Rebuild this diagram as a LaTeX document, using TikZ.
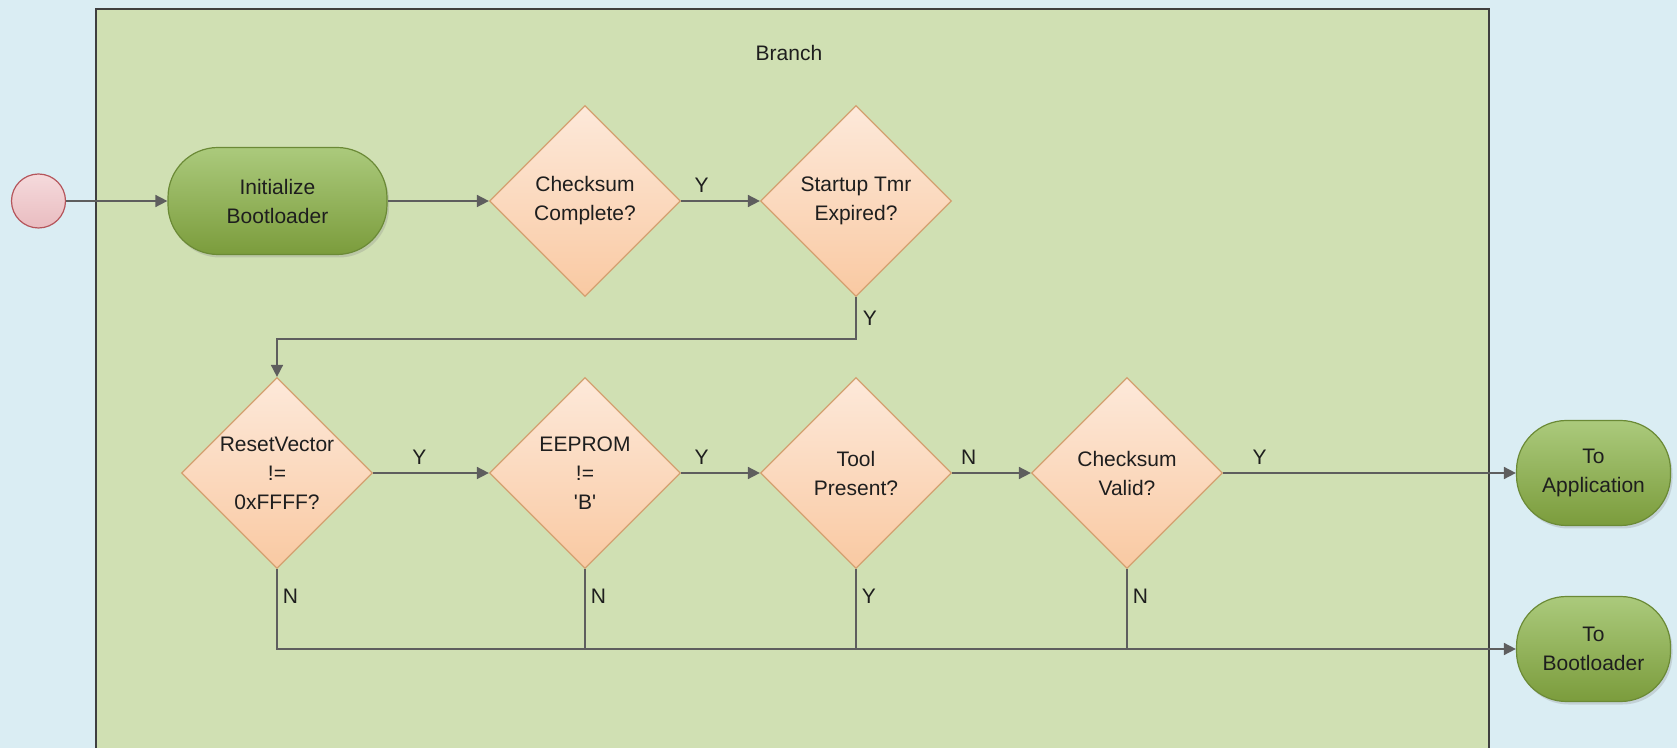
\documentclass[tikz,border=0pt]{standalone}
\usepackage{fontspec}
\setmainfont{Liberation Sans}
\usetikzlibrary{shapes.geometric,arrows.meta,shadows}
\definecolor{bgblue}{HTML}{DAEDF3}
\definecolor{panel}{HTML}{D0E0B3}
\definecolor{frame}{HTML}{3F3F3F}
\definecolor{wire}{HTML}{5E5E5E}
\definecolor{txt}{HTML}{1E1E1E}
\definecolor{dtop}{HTML}{FDE9DA}
\definecolor{dbot}{HTML}{F9C9A2}
\definecolor{ddraw}{HTML}{D4A070}
\definecolor{gtop}{HTML}{ABCA7C}
\definecolor{gbot}{HTML}{7B9C3C}
\definecolor{gdraw}{HTML}{6B8A36}
\definecolor{ctop}{HTML}{F5DADC}
\definecolor{cbot}{HTML}{E9BCC0}
\definecolor{cdraw}{HTML}{B5555B}
\begin{document}
\begin{tikzpicture}[x=.5pt,y=-.5pt,
	every node/.style={font=\fontsize{10.5}{14.5}\selectfont,text=txt,align=center,inner sep=0pt},
	decision/.style={diamond,draw=ddraw,line width=.6pt,top color=dtop,bottom color=dbot,minimum width=95.5pt,minimum height=95.5pt},
	terminal/.style={rectangle,rounded corners=25pt,draw=gdraw,line width=.6pt,top color=gtop,bottom color=gbot,
		drop shadow={shadow xshift=1pt,shadow yshift=-1.5pt,opacity=.25}},
	startpt/.style={circle,draw=cdraw,line width=.6pt,top color=ctop,bottom color=cbot,minimum size=27pt},
	flow/.style={draw=wire,line width=.8pt,-{Triangle[length=6pt,width=6pt]}},
	merge/.style={draw=wire,line width=.8pt}]
	\useasboundingbox (0,0) rectangle (1677,748);
	\fill[bgblue] (0,0) rectangle (1677,748);
	\fill[panel] (96,9) rectangle (1489,748);
	\draw[frame,line width=1.2pt] (96,748) |- (1489,9) -- (1489,748);
	\node (branch) at (789,53) {Branch};
	\node[startpt] (start) at (38.5,201) {};
	\node[terminal,minimum width=109.5pt,minimum height=53.5pt] (init) at (277.5,201) {Initialize\\Bootloader};
	\node[decision] (chk) at (585,201) {};
	\node (chkt) at (chk) {Checksum\\Complete?};
	\node[decision] (tmr) at (856,201) {};
	\node (tmrt) at (tmr) {Startup Tmr\\Expired?};
	\node[decision] (rv) at (277,473) {};
	\node (rvt) at (rv) {ResetVector\\!=\\0xFFFF?};
	\node[decision] (ee) at (585,473) {};
	\node (eet) at (ee) {EEPROM\\!=\\\textquotesingle B\textquotesingle};
	\node[decision] (tool) at (856,473) {};
	\node (toolt) at (tool) {Tool\\Present?};
	\node[decision] (cv) at (1127,473) {};
	\node (cvt) at (cv) {Checksum\\Valid?};
	\node[terminal,minimum width=77pt,minimum height=52.5pt] (app) at (1593.5,473) {To\\Application};
	\node[terminal,minimum width=77pt,minimum height=52.5pt] (boot) at (1593.5,649) {To\\Bootloader};
	\draw[flow] (start) -- (init);
	\draw[flow] (init) -- (chk);
	\draw[flow] (chk) -- node[pos=.26,above=4pt] (y1) {Y} (tmr);
	\draw[flow] (tmr.south) -- node[right=3pt] (y2) {Y} ++(0,42) -| (rv.north);
	\draw[flow] (rv) -- node[pos=.4,above=4pt] (y3) {Y} (ee);
	\draw[flow] (ee) -- node[pos=.26,above=4pt] (y4) {Y} (tool);
	\draw[flow] (tool) -- node[pos=.21,above=4pt] (n1) {N} (cv);
	\draw[flow] (cv) -- node[pos=.125,above=4pt] (y5) {Y} (app);
	\draw[flow] (rv.south) -- node[pos=.34,right=2.5pt] (n2) {N} (rv.south |- boot.west) -- (boot.west);
	\draw[merge] (ee.south) -- node[pos=.34,right=2.5pt] (n3) {N} (ee.south |- boot.west);
	\draw[merge] (tool.south) -- node[pos=.34,right=2.5pt] (y6) {Y} (tool.south |- boot.west);
	\draw[merge] (cv.south) -- node[pos=.34,right=2.5pt] (n4) {N} (cv.south |- boot.west);
\end{tikzpicture}
\end{document}
